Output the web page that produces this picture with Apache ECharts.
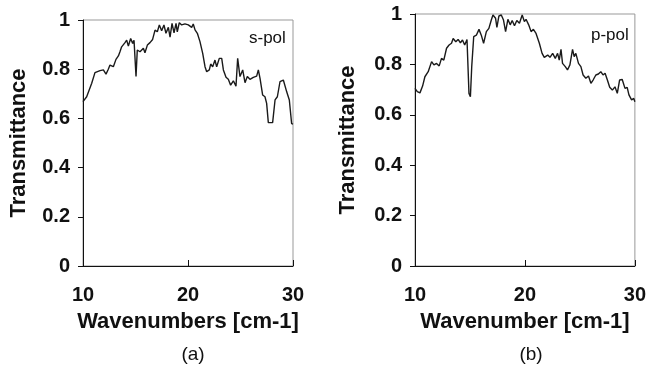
<!DOCTYPE html>
<html>
<head>
<meta charset="utf-8">
<script src="https://cdn.jsdelivr.net/npm/echarts@6/dist/echarts.min.js"></script>
<style>
  html, body { margin: 0; padding: 0; background: #fff; }
  #chart { width: 649px; height: 366px; }
</style>
</head>
<body>
<div id="chart"></div>
<script>
// s-pol transmittance (panel a)
const sPolX = [10, 10.35, 10.83, 11.14, 11.62, 11.94, 12.19, 12.41, 12.57, 12.89, 13.14, 13.37, 13.52, 13.68, 13.84, 14.0, 14.16, 14.32, 14.54, 14.73, 14.86, 15.05, 15.17, 15.43, 15.75, 15.9, 16.13, 16.38, 16.63, 16.86, 17.08, 17.27, 17.49, 17.71, 17.9, 18.13, 18.29, 18.48, 18.67, 18.86, 18.98, 19.17, 19.4, 19.71, 20.03, 20.35, 20.5, 20.67, 20.89, 21.14, 21.4, 21.62, 21.78, 22.03, 22.16, 22.35, 22.57, 22.73, 22.98, 23.21, 23.37, 23.62, 23.84, 24.06, 24.32, 24.57, 24.73, 24.95, 25.21, 25.43, 25.65, 25.9, 26.22, 26.54, 26.7, 26.86, 27.11, 27.33, 27.49, 27.65, 28.06, 28.29, 28.51, 28.76, 29.08, 29.4, 29.65, 29.87, 30];
const sPolY = [0.668, 0.688, 0.743, 0.786, 0.794, 0.797, 0.78, 0.8, 0.817, 0.81, 0.84, 0.854, 0.871, 0.891, 0.885, 0.908, 0.918, 0.894, 0.925, 0.905, 0.918, 0.77, 0.878, 0.871, 0.885, 0.867, 0.898, 0.908, 0.921, 0.959, 0.952, 0.98, 0.956, 0.98, 0.946, 0.97, 0.93, 0.986, 0.948, 0.986, 0.952, 0.989, 0.98, 0.984, 0.98, 0.97, 0.984, 0.96, 0.946, 0.912, 0.864, 0.81, 0.79, 0.797, 0.821, 0.81, 0.837, 0.81, 0.844, 0.844, 0.797, 0.767, 0.759, 0.735, 0.753, 0.731, 0.844, 0.77, 0.797, 0.745, 0.77, 0.759, 0.767, 0.772, 0.797, 0.763, 0.695, 0.688, 0.661, 0.583, 0.583, 0.675, 0.688, 0.749, 0.756, 0.708, 0.675, 0.579, 0.577];

// p-pol transmittance (panel b)
const pPolX = [10, 10.21, 10.45, 10.69, 10.9, 11.2, 11.51, 11.72, 11.96, 12.2, 12.41, 12.62, 12.87, 13.1, 13.32, 13.47, 13.71, 13.92, 14.13, 14.32, 14.52, 14.73, 14.91, 15.04, 15.16, 15.34, 15.58, 15.82, 16.03, 16.24, 16.49, 16.72, 16.94, 17.09, 17.33, 17.45, 17.63, 17.85, 18.05, 18.24, 18.45, 18.66, 18.84, 19.05, 19.26, 19.5, 19.75, 19.95, 20.1, 20.34, 20.56, 20.77, 21.01, 21.31, 21.56, 21.76, 22.07, 22.28, 22.52, 22.76, 22.97, 23.12, 23.28, 23.42, 23.67, 23.87, 24.09, 24.33, 24.48, 24.63, 24.87, 25.09, 25.29, 25.54, 25.78, 26.0, 26.2, 26.45, 26.68, 26.9, 27.1, 27.29, 27.5, 27.71, 27.95, 28.19, 28.4, 28.61, 28.85, 29.1, 29.3, 29.46, 29.7, 29.9, 30];
const pPolY = [0.705, 0.692, 0.687, 0.714, 0.751, 0.771, 0.811, 0.798, 0.804, 0.794, 0.824, 0.817, 0.864, 0.877, 0.884, 0.903, 0.89, 0.899, 0.886, 0.897, 0.877, 0.899, 0.685, 0.672, 0.791, 0.91, 0.916, 0.939, 0.916, 0.884, 0.93, 0.943, 0.976, 0.996, 0.983, 0.947, 0.992, 0.996, 0.976, 0.93, 0.979, 0.957, 0.974, 0.953, 0.974, 0.963, 0.996, 0.97, 0.979, 0.957, 0.93, 0.939, 0.923, 0.884, 0.844, 0.828, 0.837, 0.828, 0.844, 0.824, 0.844, 0.817, 0.86, 0.804, 0.791, 0.778, 0.798, 0.86, 0.831, 0.844, 0.804, 0.791, 0.758, 0.745, 0.754, 0.725, 0.738, 0.758, 0.762, 0.771, 0.758, 0.765, 0.738, 0.709, 0.698, 0.711, 0.685, 0.738, 0.74, 0.705, 0.709, 0.679, 0.659, 0.665, 0.652];

const xTitles = ["Wavenumbers [cm-1]", "Wavenumber [cm-1]"];
const yTitle = "Transmittance";
const panelTags = ["(a)", "(b)"];
const polLabels = ["s-pol", "p-pol"];

const FONT = "'Liberation Sans', Arial, sans-serif";

function pairs(xs, ys) {
  let out = [];
  for (let i = 0; i < Math.min(xs.length, ys.length); i++) {
    out.push([xs[i], ys[i]]);
  }
  return out;
}

function xAxisFor(idx) {
  return {
    type: "value",
    gridIndex: idx,
    min: 10,
    max: 30,
    interval: 10,
    name: xTitles[idx],
    nameLocation: "middle",
    nameGap: 45,
    nameTextStyle: { color: "#111", fontSize: 22, fontWeight: "bold", fontFamily: FONT },
    axisLine: { lineStyle: { color: "#111", width: 1 } },
    axisTick: { inside: true, length: 6, lineStyle: { color: "#111" } },
    axisLabel: { color: "#111", fontSize: 20, fontWeight: "bold", fontFamily: FONT, margin: 19,
      formatter: v => String(v) },
    splitLine: { show: false }
  };
}

function yAxisFor(idx, gap) {
  return {
    type: "value",
    gridIndex: idx,
    min: 0,
    max: 1,
    interval: 0.2,
    name: yTitle,
    nameLocation: "middle",
    nameGap: gap,
    nameTextStyle: { color: "#111", fontSize: 22, fontWeight: "bold", fontFamily: FONT },
    axisLine: { show: true, lineStyle: { color: "#111", width: 1 } },
    axisTick: { show: true, inside: false, length: 5, lineStyle: { color: "#111" } },
    axisLabel: { color: "#111", fontSize: 20, fontWeight: "bold", fontFamily: FONT, margin: 13,
      formatter: v => String(Math.round(v * 10) / 10) },
    splitLine: { show: false }
  };
}

let option = {
  backgroundColor: "#fff",
  animation: false,
  title: [
    { text: polLabels[0], left: 244, top: 25, textStyle: { fontSize: 17, fontWeight: "normal", color: "#111", fontFamily: FONT } },
    { text: polLabels[1], left: 586, top: 22, textStyle: { fontSize: 17, fontWeight: "normal", color: "#111", fontFamily: FONT } },
    { text: panelTags[0], left: 188, top: 340, textAlign: "center", textStyle: { fontSize: 19, fontWeight: "normal", color: "#111", fontFamily: FONT } },
    { text: panelTags[1], left: 526, top: 340, textAlign: "center", textStyle: { fontSize: 19, fontWeight: "normal", color: "#111", fontFamily: FONT } }
  ],
  grid: [
    { left: 83, top: 20, width: 210, height: 246, show: true, borderColor: "#999", borderWidth: 1, backgroundColor: "transparent" },
    { left: 415, top: 14, width: 221, height: 252, show: true, borderColor: "#999", borderWidth: 1, backgroundColor: "transparent" }
  ],
  xAxis: [xAxisFor(0), xAxisFor(1)],
  yAxis: [yAxisFor(0, 53), yAxisFor(1, 56)],
  series: [
    {
      name: polLabels[0],
      type: "line",
      xAxisIndex: 0,
      yAxisIndex: 0,
      data: pairs(sPolX, sPolY),
      showSymbol: false,
      lineStyle: { color: "#1a1a1a", width: 1.4 }
    },
    {
      name: polLabels[1],
      type: "line",
      xAxisIndex: 1,
      yAxisIndex: 1,
      data: pairs(pPolX, pPolY),
      showSymbol: false,
      lineStyle: { color: "#1a1a1a", width: 1.4 }
    }
  ]
};

let chart = echarts.init(document.getElementById("chart"), null, { renderer: "canvas" });
chart.setOption(option, true);
</script>
</body>
</html>
